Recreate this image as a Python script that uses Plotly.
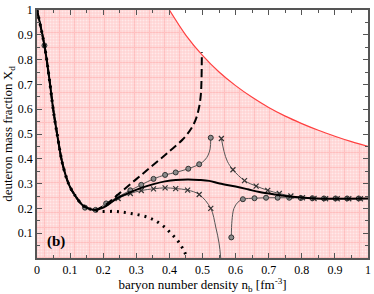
import plotly.graph_objects as go

# ---------------- data ----------------
# upper boundary of allowed (pink) region
bound_n = [0.0, 0.40, 0.45, 0.50, 0.55, 0.60, 0.65, 0.70, 0.75, 0.80, 0.85, 0.90, 0.95, 1.0]
bound_X = [1.0, 1.0, 0.898, 0.817, 0.750, 0.695, 0.648, 0.607, 0.572, 0.542, 0.515, 0.491, 0.469, 0.450]
red_n = bound_n[1:]
red_X = bound_X[1:]

# common low-density part
low_n = [0.0, 0.0225, 0.0375, 0.05, 0.0625, 0.077, 0.0975, 0.1175, 0.137, 0.155, 0.175]
low_X = [1.0, 0.857, 0.72, 0.59, 0.486, 0.38, 0.293, 0.247, 0.214, 0.2, 0.194]

solid_n = [0.2, 0.245, 0.282, 0.315, 0.352, 0.387, 0.419, 0.457, 0.49, 0.52, 0.552, 0.6, 0.637, 0.672, 0.72, 0.772, 0.84, 0.9, 1.0]
solid_X = [0.203, 0.243, 0.265, 0.283, 0.298, 0.309, 0.315, 0.317, 0.315, 0.311, 0.3, 0.288, 0.277, 0.266, 0.256, 0.247, 0.24, 0.239, 0.24]

dot_n = [0.192, 0.232, 0.257, 0.282, 0.307, 0.335, 0.357, 0.385, 0.407, 0.425, 0.435, 0.445, 0.452]
dot_X = [0.188, 0.188, 0.185, 0.18, 0.174, 0.164, 0.151, 0.125, 0.096, 0.07, 0.05, 0.026, 0.005]

dash_n = [0.207, 0.25, 0.3, 0.35, 0.4, 0.44, 0.465, 0.48, 0.49, 0.495, 0.497, 0.498]
dash_X = [0.214, 0.262, 0.318, 0.374, 0.43, 0.478, 0.52, 0.56, 0.61, 0.66, 0.72, 0.83]

circ1_n = [0.209, 0.245, 0.282, 0.315, 0.352, 0.387, 0.419, 0.457, 0.49, 0.507, 0.517, 0.523, 0.525]
circ1_X = [0.22, 0.247, 0.273, 0.295, 0.319, 0.335, 0.345, 0.36, 0.378, 0.395, 0.415, 0.44, 0.485]
circ1_mk_n = [0.0225, 0.145, 0.177, 0.209, 0.245, 0.282, 0.315, 0.352, 0.387, 0.419, 0.457, 0.49, 0.525]
circ1_mk_X = [0.857, 0.203, 0.194, 0.22, 0.247, 0.273, 0.295, 0.319, 0.335, 0.345, 0.36, 0.378, 0.485]

circ2_n = [0.587, 0.589, 0.595, 0.607, 0.622, 0.657, 0.692, 0.727, 0.762, 0.797, 0.832, 0.867, 0.902, 0.937, 0.972, 1.0]
circ2_X = [0.083, 0.15, 0.2, 0.225, 0.237, 0.241, 0.243, 0.243, 0.243, 0.242, 0.241, 0.24, 0.24, 0.24, 0.24, 0.24]
circ2_mk_n = [0.587, 0.622, 0.657, 0.692, 0.727, 0.762, 0.797, 0.832, 0.867, 0.902, 0.937, 0.972]
circ2_mk_X = [0.083, 0.237, 0.241, 0.243, 0.243, 0.243, 0.242, 0.241, 0.24, 0.24, 0.24, 0.24]

cross1_n = [0.209, 0.245, 0.282, 0.315, 0.352, 0.387, 0.419, 0.455, 0.49, 0.525, 0.54, 0.55, 0.555]
cross1_X = [0.212, 0.24, 0.26, 0.272, 0.279, 0.283, 0.28, 0.274, 0.256, 0.2, 0.125, 0.06, 0.0]
cross1_mk_n = [0.245, 0.282, 0.315, 0.352, 0.387, 0.419, 0.455, 0.49, 0.525]
cross1_mk_X = [0.24, 0.26, 0.272, 0.279, 0.283, 0.28, 0.274, 0.256, 0.2]

cross2_n = [0.557, 0.565, 0.575, 0.592, 0.627, 0.662, 0.697, 0.732, 0.767, 0.802, 0.837, 0.872, 0.907, 0.942, 0.977, 1.0]
cross2_X = [0.482, 0.43, 0.39, 0.356, 0.312, 0.29, 0.273, 0.26, 0.25, 0.243, 0.24, 0.239, 0.239, 0.239, 0.239, 0.239]
cross2_mk_n = [0.557, 0.592, 0.627, 0.662, 0.697, 0.732, 0.767, 0.802, 0.837, 0.872, 0.907, 0.942, 0.977]
cross2_mk_X = [0.482, 0.356, 0.312, 0.29, 0.273, 0.26, 0.25, 0.243, 0.24, 0.239, 0.239, 0.239, 0.239]

x_ticks = [0, 0.1, 0.2, 0.3, 0.4, 0.5, 0.6, 0.7, 0.8, 0.9, 1.0]
x_labels = ["0", "0.1", "0.2", "0.3", "0.4", "0.5", "0.6", "0.7", "0.8", "0.9", "1"]
y_ticks = [0.1, 0.2, 0.3, 0.4, 0.5, 0.6, 0.7, 0.8, 0.9, 1.0]
y_labels = ["0.1", "0.2", "0.3", "0.4", "0.5", "0.6", "0.7", "0.8", "0.9", "1"]

SERIF = "Liberation Serif, Times New Roman, serif"

# ---------------- figure ----------------
fig = go.Figure()

# pink allowed region: checker texture + grid pattern
fig.add_trace(go.Scatter(x=bound_n, y=bound_X, mode="lines", line=dict(width=0),
                         fill="tozeroy", fillcolor="#ffd9d9",
                         fillpattern=dict(shape=".", size=3, solidity=0.35,
                                          fgcolor="#ffffff", bgcolor="#ffd4d4"),
                         hoverinfo="skip", showlegend=False))
fig.add_trace(go.Scatter(x=bound_n, y=bound_X, mode="lines", line=dict(width=0),
                         fill="tozeroy", fillcolor="rgba(0,0,0,0)",
                         fillpattern=dict(shape="+", size=15, solidity=0.12,
                                          fgcolor="#ff9c9c", bgcolor="rgba(0,0,0,0)"),
                         hoverinfo="skip", showlegend=False))
fig.add_trace(go.Scatter(x=red_n, y=red_X, mode="lines", line=dict(color="#ff4040", width=1.2),
                         line_shape="spline", showlegend=False))

GRAY = "#555555"
# thin gray branches
for xs, ys in [(low_n + circ1_n, low_X + circ1_X), (circ2_n, circ2_X),
               (low_n + cross1_n, low_X + cross1_X), (cross2_n, cross2_X)]:
    fig.add_trace(go.Scatter(x=xs, y=ys, mode="lines", line=dict(color=GRAY, width=1),
                             line_shape="spline", showlegend=False))

for xs, ys in [(circ1_mk_n, circ1_mk_X), (circ2_mk_n, circ2_mk_X)]:
    fig.add_trace(go.Scatter(x=xs, y=ys, mode="markers",
                             marker=dict(symbol="circle", size=5, color="#8a8a8a",
                                         line=dict(color="#333333", width=1)),
                             showlegend=False))
for xs, ys in [(cross1_mk_n, cross1_mk_X), (cross2_mk_n, cross2_mk_X)]:
    fig.add_trace(go.Scatter(x=xs, y=ys, mode="markers",
                             marker=dict(symbol="x-thin-open", size=5, color="#333333",
                                         line=dict(color="#333333", width=1.2)),
                             showlegend=False))

# black curves
fig.add_trace(go.Scatter(x=low_n + dash_n, y=low_X + dash_X, mode="lines",
                         line=dict(color="black", width=2, dash="8px,4px"),
                         line_shape="spline", showlegend=False))
fig.add_trace(go.Scatter(x=low_n + dot_n, y=low_X + dot_X, mode="lines",
                         line=dict(color="black", width=3, dash="2px,5px"),
                         line_shape="spline", showlegend=False))
fig.add_trace(go.Scatter(x=low_n + solid_n, y=low_X + solid_X, mode="lines",
                         line=dict(color="black", width=2),
                         line_shape="spline", showlegend=False))

fig.add_annotation(x=0.057, y=0.065, text="<b>(b)</b>", showarrow=False,
                   font=dict(family=SERIF, size=15, color="black"))

axis_common = dict(showgrid=False, zeroline=False, showline=True, linecolor="#555555",
                   linewidth=1.5, mirror="allticks", ticks="inside", ticklen=5,
                   tickcolor="#555555", range=[0, 1], ticklabeloverflow="allow",
                   tickfont=dict(family=SERIF, size=12, color="black"))
fig.update_xaxes(**axis_common, tickvals=x_ticks, ticktext=x_labels,
                 minor=dict(dtick=0.05, ticks="inside", ticklen=3, tickcolor="#555555"),
                 title=dict(text="baryon number density n<sub>b</sub> [fm<sup>-3</sup>]",
                            font=dict(family=SERIF, size=13, color="black"),
                            standoff=4))
fig.update_yaxes(**axis_common, tickvals=y_ticks, ticktext=y_labels,
                 minor=dict(dtick=0.05, ticks="inside", ticklen=3, tickcolor="#555555"),
                 title=dict(text="deuteron mass fraction X<sub>d</sub>",
                            font=dict(family=SERIF, size=13, color="black"),
                            standoff=3))

fig.update_layout(width=374, height=294, margin=dict(l=37, r=3, t=4, b=36),
                  plot_bgcolor="white", paper_bgcolor="white")

fig.write_html("out.html", config={"displayModeBar": False},
               post_script="document.body.style.margin='0';document.body.style.padding='0';")
